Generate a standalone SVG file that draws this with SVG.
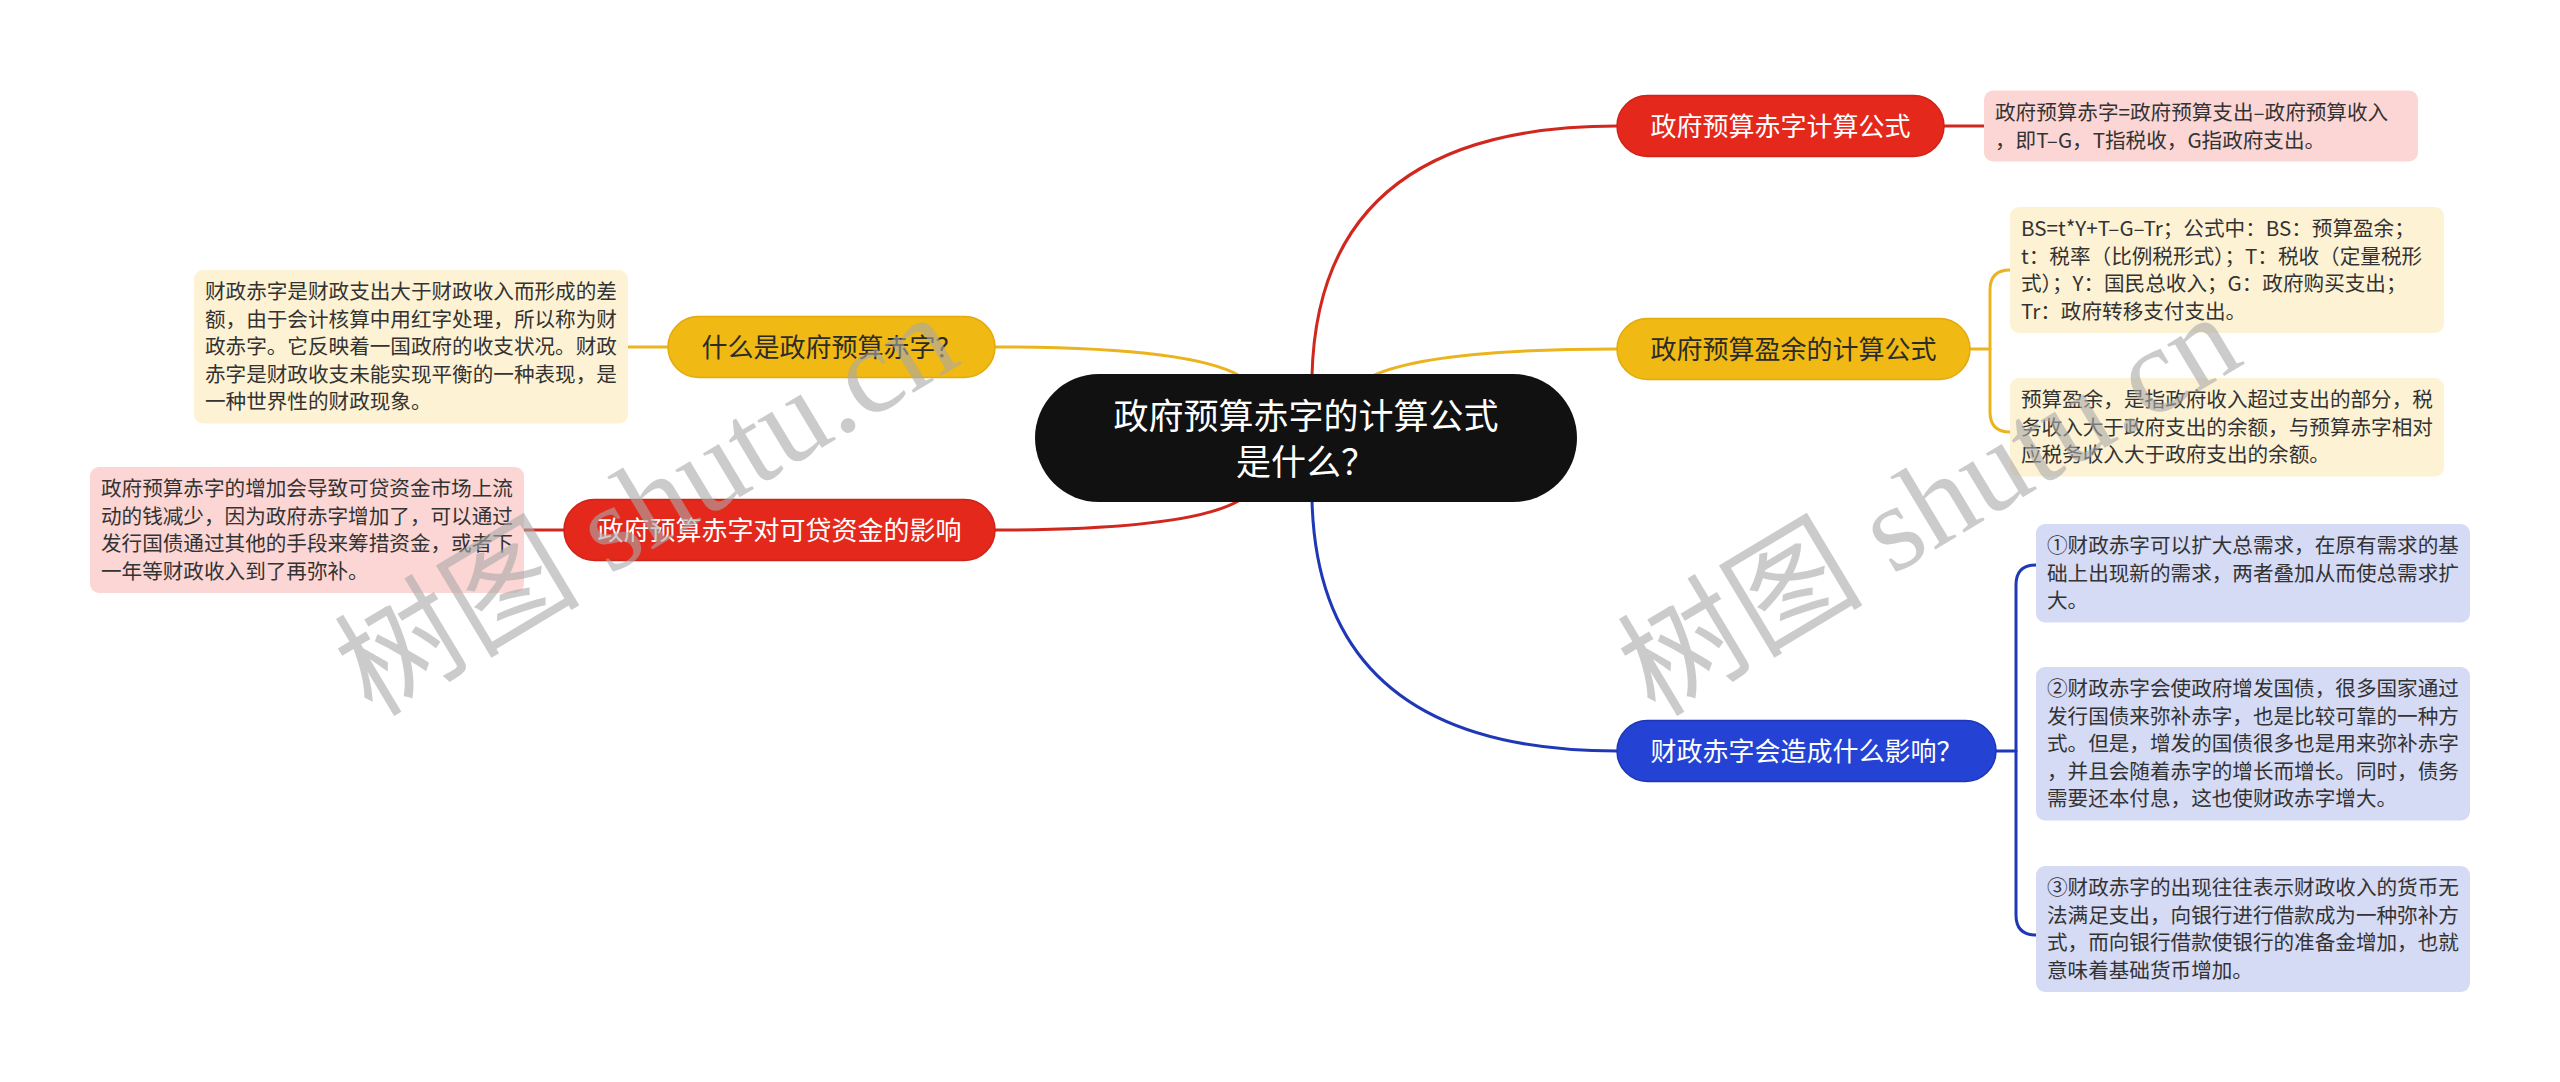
<svg xmlns="http://www.w3.org/2000/svg" width="2560" height="1082" viewBox="0 0 2560 1082">
<style>
.node text, .box text { font-family: "Noto Sans CJK SC", "Noto Sans", sans-serif; }
.nt { font-size: 26px; text-anchor: middle; }
.bt { font-size: 20.6px; fill: #333333; }
.red rect.n { fill: #E5281C; stroke: #CF2219; stroke-width: 1.5; }
.yel rect.n { fill: #F0B913; stroke: #E2AA0C; stroke-width: 1.5; }
.blu rect.n { fill: #2443D4; stroke: #1D36B5; stroke-width: 1.5; }
.red text, .blu text { fill: #ffffff; }
.yel text { fill: #2b2b2b; }
.pk { fill: #FBD6D4; }
.cr { fill: #FDF2D3; }
.lv { fill: #D5DAF5; }
.c { fill: none; stroke-width: 3; stroke-linecap: round; }
.cr-l { stroke: #D0281E; }
.ye-l { stroke: #EBB41E; }
.bl-l { stroke: #1F38B6; }
.wm { font-family: "Liberation Serif", "Noto Sans CJK SC", serif; font-size: 123px; fill: #aaaaaa; opacity: 0.6; }
</style>
<rect width="2560" height="1082" fill="#ffffff"/>
<g id="connectors">
  <path class="c cr-l" d="M1312,376 Q1318,126 1617,126"/>
  <path class="c ye-l" d="M1372,376 Q1430,349 1617,349"/>
  <path class="c bl-l" d="M1312,500 Q1318,751 1617,751"/>
  <path class="c ye-l" d="M1240,376 Q1190,347 995,347"/>
  <path class="c cr-l" d="M1240,500 Q1190,530 995,530"/>
  <path class="c cr-l" d="M1944,126 H1984"/>
  <path class="c ye-l" d="M1970,349 H1990"/>
  <path class="c ye-l" d="M2010,270 Q1990,270 1990,290 V412 Q1990,432 2010,432"/>
  <path class="c bl-l" d="M1996,751 H2016"/>
  <path class="c bl-l" d="M2036,565 Q2016,565 2016,585 V915 Q2016,935 2036,935"/>
  <path class="c ye-l" d="M628,347 H668"/>
  <path class="c cr-l" d="M524,530 H564"/>
</g>
<g id="center" class="node">
  <rect x="1035" y="374" width="542" height="128" rx="64" fill="#111111"/>
  <text x="1306" y="428.5" font-size="35" text-anchor="middle" fill="#ffffff">政府预算赤字的计算公式</text>
  <text x="1306" y="474.5" font-size="35" text-anchor="middle" fill="#ffffff">是什么？</text>
</g>
<g id="n-formula" class="node red">
  <rect class="n" x="1617" y="95.5" width="327" height="61" rx="30.5"/>
  <text class="nt" x="1780.5" y="135.5">政府预算赤字计算公式</text>
</g>
<g id="b-formula" class="box">
  <rect class="pk" x="1984" y="90.5" width="434" height="71" rx="9"/>
  <text class="bt" x="1995" y="120">政府预算赤字=政府预算支出–政府预算收入</text>
  <text class="bt" x="1995" y="147.5">，即T–G，T指税收，G指政府支出。</text>
</g>
<g id="n-surplus" class="node yel">
  <rect class="n" x="1617" y="318.5" width="353" height="61" rx="30.5"/>
  <text class="nt" x="1793.5" y="358.5">政府预算盈余的计算公式</text>
</g>
<g id="b-surplus1" class="box">
  <rect class="cr" x="2010" y="207" width="434" height="126" rx="9"/>
  <text class="bt" x="2021" y="236">BS=t*Y+T–G–Tr；公式中：BS：预算盈余；</text>
  <text class="bt" x="2021" y="263.5">t：税率（比例税形式）；T：税收（定量税形</text>
  <text class="bt" x="2021" y="291">式）；Y：国民总收入；G：政府购买支出；</text>
  <text class="bt" x="2021" y="318.5">Tr：政府转移支付支出。</text>
</g>
<g id="b-surplus2" class="box">
  <rect class="cr" x="2010" y="378" width="434" height="98.5" rx="9"/>
  <text class="bt" x="2021" y="407">预算盈余，是指政府收入超过支出的部分，税</text>
  <text class="bt" x="2021" y="434.5">务收入大于政府支出的余额，与预算赤字相对</text>
  <text class="bt" x="2021" y="462">应税务收入大于政府支出的余额。</text>
</g>
<g id="n-impact" class="node blu">
  <rect class="n" x="1617" y="720.5" width="379" height="61" rx="30.5"/>
  <text class="nt" x="1806.5" y="760.5">财政赤字会造成什么影响？</text>
</g>
<g id="b-impact1" class="box">
  <rect class="lv" x="2036" y="524" width="434" height="98.5" rx="9"/>
  <text class="bt" x="2047" y="553">①财政赤字可以扩大总需求，在原有需求的基</text>
  <text class="bt" x="2047" y="580.5">础上出现新的需求，两者叠加从而使总需求扩</text>
  <text class="bt" x="2047" y="608">大。</text>
</g>
<g id="b-impact2" class="box">
  <rect class="lv" x="2036" y="667" width="434" height="153.5" rx="9"/>
  <text class="bt" x="2047" y="696">②财政赤字会使政府增发国债，很多国家通过</text>
  <text class="bt" x="2047" y="723.5">发行国债来弥补赤字，也是比较可靠的一种方</text>
  <text class="bt" x="2047" y="751">式。但是，增发的国债很多也是用来弥补赤字</text>
  <text class="bt" x="2047" y="778.5">，并且会随着赤字的增长而增长。同时，债务</text>
  <text class="bt" x="2047" y="806">需要还本付息，这也使财政赤字增大。</text>
</g>
<g id="b-impact3" class="box">
  <rect class="lv" x="2036" y="866" width="434" height="126" rx="9"/>
  <text class="bt" x="2047" y="895">③财政赤字的出现往往表示财政收入的货币无</text>
  <text class="bt" x="2047" y="922.5">法满足支出，向银行进行借款成为一种弥补方</text>
  <text class="bt" x="2047" y="950">式，而向银行借款使银行的准备金增加，也就</text>
  <text class="bt" x="2047" y="977.5">意味着基础货币增加。</text>
</g>
<g id="n-what" class="node yel">
  <rect class="n" x="668" y="316.5" width="327" height="61" rx="30.5"/>
  <text class="nt" x="831.5" y="356.5">什么是政府预算赤字？</text>
</g>
<g id="b-what" class="box">
  <rect class="cr" x="194" y="270" width="434" height="153.5" rx="9"/>
  <text class="bt" x="205" y="299">财政赤字是财政支出大于财政收入而形成的差</text>
  <text class="bt" x="205" y="326.5">额，由于会计核算中用红字处理，所以称为财</text>
  <text class="bt" x="205" y="354">政赤字。它反映着一国政府的收支状况。财政</text>
  <text class="bt" x="205" y="381.5">赤字是财政收支未能实现平衡的一种表现，是</text>
  <text class="bt" x="205" y="409">一种世界性的财政现象。</text>
</g>
<g id="n-loan" class="node red">
  <rect class="n" x="564" y="499.5" width="431" height="61" rx="30.5"/>
  <text class="nt" x="779.5" y="539.5">政府预算赤字对可贷资金的影响</text>
</g>
<g id="b-loan" class="box">
  <rect class="pk" x="90" y="467" width="434" height="126" rx="9"/>
  <text class="bt" x="101" y="496">政府预算赤字的增加会导致可贷资金市场上流</text>
  <text class="bt" x="101" y="523.5">动的钱减少，因为政府赤字增加了，可以通过</text>
  <text class="bt" x="101" y="551">发行国债通过其他的手段来筹措资金，或者下</text>
  <text class="bt" x="101" y="578.5">一年等财政收入到了再弥补。</text>
</g>
<g id="watermarks">
  <text class="wm" transform="translate(372,718) rotate(-31)">树图 shutu.cn</text>
  <text class="wm" transform="translate(1655,718) rotate(-31)">树图 shutu.cn</text>
</g>
</svg>
